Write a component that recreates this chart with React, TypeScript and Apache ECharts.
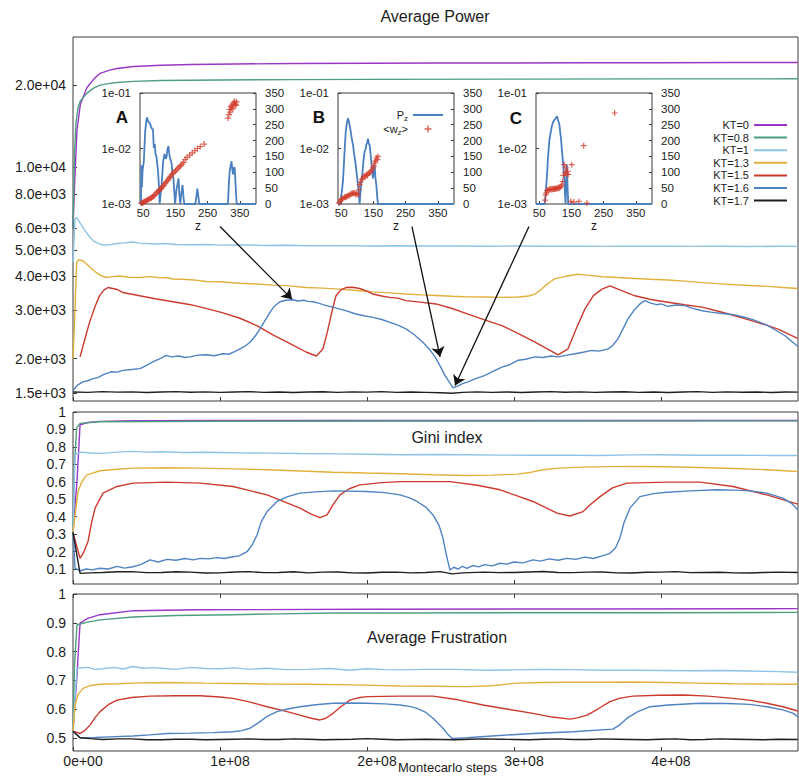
import React, { useEffect, useRef } from 'react';
import * as echarts from 'echarts';

const NAMES = ['KT=0', 'KT=0.8', 'KT=1', 'KT=1.3', 'KT=1.5', 'KT=1.6', 'KT=1.7'];
const COLORS = ['#9a36c8', '#4e9e80', '#8ec3e6', '#e2b13c', '#cc3a2e', '#4f83c2', '#1f1f1f'];

// x values in millions of Montecarlo steps
const POWER_KT0 = [[0,6000],[1.4,9500],[2.7,13700],[5,17000],[9.5,19600],[14,21000],[18.4,22100],[25,22700],[30,23000],[41,23400],[60,23650],[80,23800],[110,23900],[150,24000],[200,24050],[250,24100],[300,24100],[350,24150],[400,24150],[450,24200],[493,24200]];
const POWER_KT08 = [[0,6000],[1,11000],[2,14500],[3.4,16500],[5,17500],[9.5,18700],[14,19500],[18.4,20000],[25,20300],[30,20450],[41,20650],[60,20800],[100,20900],[150,20950],[200,21000],[300,21050],[400,21080],[493,21100]];
const POWER_KT1 = [[0,4500],[1.4,6500],[2.7,6550],[5,6250],[8,5900],[11,5600],[14,5380],[18.4,5240],[22,5200],[26,5230],[30,5270],[35,5300],[40.8,5340],[45,5290],[50,5270],[56,5250],[62,5270],[70,5230],[80,5220],[90,5230],[100,5200],[115,5210],[130,5185],[145,5195],[160,5175],[180,5180],[200,5165],[220,5175],[240,5160],[260,5165],[280,5150],[300,5160],[320,5150],[340,5155],[360,5145],[380,5155],[400,5150],[420,5145],[440,5155],[460,5140],[480,5150],[493,5145]];
const POWER_KT13 = [[0,2000],[1,2700],[2.5,4500],[4,4600],[6.8,4550],[10,4400],[14,4200],[18,4050],[22.4,3960],[27,3990],[32,4010],[38,3970],[45.6,3960],[52,3990],[58,3960],[64,3950],[68,3910],[75,3900],[82,3880],[90.5,3830],[100,3820],[113.6,3775],[125,3750],[136,3715],[147,3690],[158.5,3640],[170,3620],[181.6,3590],[193,3550],[204,3510],[215,3480],[226.5,3445],[237,3420],[247,3405],[258,3380],[268.7,3365],[280,3360],[291.8,3350],[303,3360],[310,3390],[314.3,3445],[318,3560],[321,3690],[325,3830],[328,3925],[335,4000],[343.5,4070],[350,4040],[360,3985],[370,3960],[382.3,3925],[393,3900],[404.8,3880],[416,3840],[426.5,3800],[438,3760],[450.3,3725],[461,3700],[472.8,3675],[483,3640],[493,3610]];
const POWER_KT15 = [[4.8,2030],[8,2350],[11.3,2720],[15,3100],[18.1,3400],[21,3560],[23.8,3640],[27,3610],[30,3580],[34,3490],[40,3440],[45.4,3395],[56,3310],[68,3230],[80,3150],[90.5,3055],[102,2940],[113.6,2810],[125,2640],[136,2445],[147,2280],[158.5,2115],[165.5,2045],[170,2170],[173,2500],[176,2950],[178.9,3395],[182,3560],[185.7,3640],[190,3650],[195,3610],[200,3530],[204,3445],[210,3390],[215.4,3350],[221,3330],[226.5,3260],[236,3220],[247,3170],[258,3050],[268.7,2910],[280,2770],[291.8,2640],[303,2470],[314.3,2300],[322,2180],[330,2065],[336.7,2170],[342,2550],[348.3,3040],[354,3400],[359.9,3590],[365.3,3690],[372,3570],[382.3,3395],[393,3290],[404.8,3215],[416,3150],[427.9,3085],[439,2980],[450.3,2870],[461,2760],[472.8,2640],[480,2560],[486.4,2465],[493,2370]];
const POWER_KT16 = [[0,1530],[3,1600],[6.8,1645],[10,1660],[13.6,1690],[17,1705],[20,1740],[22.4,1763],[26,1790],[30,1785],[34,1812],[40,1825],[45.6,1838],[50,1890],[53,1930],[56.5,1972],[60,2010],[63.3,2055],[67,2030],[72,2045],[76,2020],[79.6,2030],[85,2060],[90.5,2066],[96,2050],[102,2084],[106,2075],[110,2120],[113.6,2172],[117,2220],[120.4,2297],[124,2420],[127.2,2570],[131,2780],[134,2953],[137,3110],[140.8,3228],[145,3270],[149.7,3283],[153,3250],[157,3270],[160,3240],[163.3,3228],[167,3190],[170,3150],[173,3120],[176.9,3084],[181,3040],[186,2990],[192.5,2912],[198,2870],[204,2832],[210,2780],[215.6,2716],[221,2650],[226.5,2570],[232,2450],[238,2297],[242,2180],[246.3,2030],[250,1870],[253,1738],[256,1640],[258.5,1563],[262,1590],[265,1620],[268.7,1645],[274,1690],[280.3,1738],[286,1800],[291.8,1862],[297,1900],[302.7,1972],[308,1990],[314.3,2030],[320,2020],[325,2045],[330,2030],[336,2060],[341.5,2084],[347,2110],[353,2143],[358,2130],[364,2172],[367,2230],[370.7,2362],[374,2560],[377.5,2794],[382,3020],[386,3180],[389,3260],[393,3190],[397,3150],[400,3170],[404.8,3106],[410,3140],[416.3,3124],[421,3060],[427.9,2992],[434,2960],[440,2930],[450.3,2890],[456,2840],[462,2783],[467,2720],[472.8,2640],[478,2540],[484.4,2425],[489,2310],[493,2220]];
const POWER_KT17 = [[0,1510],[10,1505],[20,1515],[30,1508],[40,1512],[50,1503],[60,1510],[70,1515],[80,1507],[90,1512],[100,1505],[110,1510],[120,1515],[130,1506],[140,1511],[150,1504],[160,1510],[170,1514],[180,1506],[190,1512],[200,1508],[210,1515],[220,1505],[230,1510],[240,1506],[250,1500],[258,1495],[265,1505],[275,1512],[285,1506],[295,1511],[305,1504],[315,1510],[325,1515],[335,1507],[345,1512],[355,1505],[365,1510],[375,1514],[385,1506],[395,1511],[405,1504],[415,1510],[425,1515],[435,1506],[445,1512],[455,1507],[465,1511],[475,1504],[485,1510],[493,1508]];

const GINI_KT0 = [[0,0.314],[2.7,0.6],[4.8,0.927],[10,0.94],[18.4,0.946],[41,0.95],[100,0.951],[250,0.951],[493,0.951]];
const GINI_KT08 = [[0,0.314],[1,0.7],[2.5,0.908],[4.8,0.935],[18,0.944],[100,0.947],[250,0.948],[493,0.949]];
const GINI_KT1 = [[0,0.314],[1.4,0.755],[4.8,0.77],[12,0.765],[20,0.763],[30,0.77],[40.8,0.774],[50,0.77],[60,0.772],[75,0.768],[90,0.769],[110,0.766],[132,0.764],[155,0.762],[180,0.76],[200,0.758],[222.4,0.755],[245,0.756],[268,0.755],[290,0.753],[313,0.752],[335,0.753],[358,0.751],[380,0.754],[400,0.755],[425,0.752],[450,0.753],[475,0.751],[493,0.751]];
const GINI_KT13 = [[0,0.31],[3.4,0.544],[6,0.6],[9.5,0.64],[18.4,0.663],[30,0.672],[40.8,0.678],[64,0.68],[86.4,0.678],[110,0.674],[132,0.669],[155,0.662],[176.9,0.655],[200,0.65],[222.4,0.646],[245,0.64],[268,0.636],[285,0.638],[302,0.644],[312,0.655],[319.7,0.669],[330,0.678],[347,0.684],[365,0.687],[381,0.688],[404,0.686],[426.5,0.682],[450,0.676],[472,0.669],[493,0.659]];
const GINI_KT15 = [[0,0.31],[4.8,0.161],[7.5,0.2],[10.2,0.257],[12.5,0.36],[15,0.449],[20.4,0.535],[29.9,0.573],[40.8,0.592],[64,0.598],[86.4,0.592],[108.8,0.573],[132,0.525],[154.4,0.449],[162,0.415],[168,0.395],[172.8,0.41],[177,0.47],[181.6,0.525],[188,0.56],[195.2,0.582],[210,0.595],[222.4,0.601],[256.5,0.601],[275,0.58],[290.5,0.554],[312.9,0.487],[329.3,0.42],[338,0.404],[347,0.429],[352,0.47],[358.5,0.515],[367,0.565],[376.9,0.592],[404,0.598],[426.5,0.598],[449,0.573],[472,0.525],[493,0.472]];
const GINI_KT16 = [[0,0.31],[1.4,0.104],[5,0.09],[9,0.1],[13,0.095],[18.4,0.104],[24,0.1],[30,0.115],[35,0.105],[40.8,0.113],[46,0.125],[52.4,0.152],[58,0.14],[64,0.155],[70,0.15],[76,0.16],[82,0.152],[86.4,0.161],[92,0.158],[98,0.165],[103,0.16],[108.8,0.17],[113,0.175],[118.4,0.199],[122,0.24],[125.2,0.295],[128,0.37],[132,0.429],[138.8,0.487],[146,0.515],[154.4,0.535],[165,0.542],[176.9,0.548],[200,0.544],[212,0.538],[222.4,0.525],[229,0.508],[234,0.487],[240,0.455],[244.9,0.41],[249,0.35],[251.7,0.276],[254,0.18],[256.5,0.094],[259,0.11],[262,0.1],[265,0.115],[268,0.104],[272,0.12],[276,0.112],[280,0.125],[285,0.118],[290.5,0.133],[295,0.128],[300,0.14],[306,0.135],[312.9,0.152],[318,0.145],[324,0.158],[330,0.15],[336,0.161],[342,0.155],[348,0.168],[354,0.16],[360,0.175],[365.3,0.19],[369,0.22],[372,0.276],[375,0.37],[378.9,0.449],[385.7,0.515],[395,0.532],[404,0.54],[420,0.548],[438,0.554],[450,0.552],[460.5,0.548],[472,0.535],[483,0.506],[489,0.475],[493,0.439]];
const GINI_KT17 = [[0,0.31],[4.8,0.075],[12,0.078],[20,0.08],[30,0.084],[40,0.085],[50,0.079],[60,0.08],[70,0.084],[80,0.082],[90,0.077],[100,0.078],[110,0.083],[120,0.085],[130,0.079],[140,0.08],[150,0.084],[160,0.078],[170,0.082],[180,0.083],[190,0.078],[200,0.077],[210,0.081],[220,0.082],[230,0.078],[240,0.08],[250,0.085],[258,0.072],[265,0.078],[280,0.082],[290,0.079],[300,0.08],[310,0.083],[320,0.086],[330,0.08],[340,0.079],[350,0.082],[360,0.083],[370,0.078],[380,0.077],[390,0.081],[400,0.082],[410,0.085],[420,0.079],[430,0.08],[440,0.081],[450,0.078],[460,0.077],[470,0.08],[480,0.082],[493,0.08]];

const FRUS_KT0 = [[0,0.523],[2.5,0.7],[4.8,0.899],[10,0.915],[18.4,0.928],[40.8,0.942],[86,0.945],[200,0.947],[350,0.948],[493,0.949]];
const FRUS_KT08 = [[0,0.523],[1,0.75],[2.7,0.893],[10,0.902],[18.4,0.91],[40.8,0.92],[70,0.925],[108.8,0.928],[140,0.931],[176.9,0.934],[222.4,0.934],[300,0.935],[400,0.935],[493,0.936]];
const FRUS_KT1 = [[0,0.523],[2.7,0.742],[10,0.745],[15,0.738],[20,0.74],[28,0.745],[34,0.739],[40.8,0.748],[48,0.742],[55,0.744],[60,0.742],[70,0.738],[80,0.745],[90,0.741],[100,0.74],[110,0.743],[120,0.738],[132,0.742],[145,0.737],[160,0.738],[175,0.741],[188,0.735],[200,0.74],[212,0.737],[222.4,0.736],[240,0.738],[260,0.738],[280,0.735],[300,0.736],[320,0.738],[340,0.737],[360,0.735],[380,0.735],[400,0.734],[420,0.733],[440,0.734],[460,0.732],[480,0.73],[493,0.728]];
const FRUS_KT13 = [[0,0.523],[1.4,0.614],[3.4,0.65],[6.8,0.672],[12,0.682],[18.4,0.686],[30,0.688],[45,0.691],[64,0.692],[90,0.69],[110,0.689],[132,0.687],[160,0.686],[190,0.684],[222.4,0.68],[245,0.679],[268,0.678],[285,0.681],[302,0.69],[320,0.692],[336,0.693],[360,0.693],[380,0.694],[404,0.692],[425,0.69],[449,0.688],[470,0.687],[493,0.686]];
const FRUS_KT15 = [[0,0.523],[4.8,0.515],[8,0.525],[11.6,0.544],[15,0.57],[18.4,0.591],[24,0.615],[29.9,0.631],[40,0.64],[52.4,0.645],[70,0.646],[86.4,0.646],[100,0.642],[108.8,0.637],[120,0.625],[132,0.608],[145,0.592],[154.4,0.579],[162,0.568],[168,0.562],[172,0.568],[176.9,0.585],[182,0.607],[188.4,0.631],[194,0.639],[200,0.643],[222.4,0.645],[244.9,0.645],[262,0.632],[278.9,0.614],[295,0.6],[312.9,0.585],[326,0.572],[338,0.565],[343,0.569],[349.7,0.579],[357,0.6],[365.3,0.626],[372,0.638],[381,0.645],[398,0.648],[415,0.649],[432,0.645],[449,0.637],[461,0.63],[472,0.62],[483,0.608],[493,0.593]];
const FRUS_KT16 = [[0,0.523],[4.8,0.5],[15,0.501],[25,0.503],[40.8,0.506],[52,0.51],[64,0.515],[80,0.516],[95,0.518],[108.8,0.521],[115,0.525],[120.4,0.533],[124,0.545],[127.2,0.556],[132,0.574],[138.8,0.591],[146,0.6],[154.4,0.608],[165,0.615],[176.9,0.62],[190,0.621],[200,0.62],[212,0.618],[222.4,0.614],[229,0.609],[234,0.602],[240,0.588],[244.9,0.568],[248,0.552],[251.7,0.533],[255,0.512],[257.8,0.498],[268,0.5],[290,0.508],[312.9,0.515],[340,0.521],[367.3,0.53],[372,0.545],[376.9,0.568],[384,0.59],[392.5,0.608],[405,0.614],[426.5,0.62],[445,0.619],[460.5,0.616],[472,0.608],[483,0.597],[490,0.585],[493,0.573]];
const FRUS_KT17 = [[0,0.523],[4.8,0.5],[12,0.497],[20,0.494],[30,0.496],[40,0.496],[50,0.493],[60,0.493],[70,0.495],[80,0.495],[90,0.493],[100,0.494],[110,0.495],[120,0.496],[130,0.494],[140,0.494],[150,0.496],[160,0.495],[170,0.493],[180,0.494],[190,0.495],[200,0.497],[210,0.495],[220,0.493],[230,0.494],[240,0.495],[250,0.494],[260,0.493],[270,0.495],[280,0.496],[290,0.495],[300,0.494],[310,0.493],[320,0.495],[330,0.496],[340,0.494],[350,0.494],[360,0.496],[370,0.495],[380,0.494],[390,0.493],[400,0.495],[410,0.496],[420,0.493],[430,0.494],[440,0.496],[450,0.495],[460,0.494],[470,0.493],[480,0.495],[493,0.494]];

// insets: [z, P_z] and [z, <w_z>]
const INSET_A_PZ = [[40,0.001],[43,0.001],[44,0.005],[46,0.002],[48,0.004],[52,0.006],[56,0.02],[60,0.033],[62,0.036],[66,0.03],[70,0.029],[74,0.025],[78,0.022],[80,0.023],[83,0.0102],[86,0.012],[88,0.008],[91,0.0072],[94,0.005],[96,0.0039],[99,0.002],[101,0.001],[104,0.0015],[107,0.0022],[110,0.004],[112,0.0059],[116,0.008],[120,0.0065],[122.6,0.0072],[125,0.0095],[128,0.011],[131,0.008],[133,0.0067],[136,0.006],[138.5,0.0051],[141,0.0035],[143.8,0.0029],[146,0.0018],[149,0.001],[153,0.0018],[156,0.0022],[159.6,0.0029],[162,0.0015],[165,0.001],[168,0.0015],[172,0.0022],[175,0.0013],[177.6,0.001],[212,0.001],[218,0.0019],[224,0.001],[313,0.001],[316,0.0025],[318.5,0.0039],[321,0.0048],[324,0.0059],[327,0.004],[329,0.0034],[331,0.0045],[334,0.0045],[337,0.002],[340,0.001],[400,0.001]];
const INSET_A_WZ = [[44,2],[47,4],[50,5],[53,7],[56,9],[59,10],[62,12],[65,14],[68,15],[71,17],[75,19],[78,22],[81,24],[84,27],[87,30],[91,35],[94,38],[97,41],[100,44],[104,48],[107,50],[110,55],[113,58],[116,63],[119,66],[122.6,71],[126,75],[129,79],[132,84],[135,88],[138.5,93],[142,97],[146,101],[150,104],[154,108],[158,113],[162,117],[166,121],[170,126],[175,131],[180,140],[186,147],[194,154],[202,161],[210,168],[218,175],[227,181],[239,189],[313,271],[316,282],[318,298],[320,290],[322,308],[324,303],[326,312],[328,300],[330,319],[332,313],[334,324],[336,315],[338,311],[340,322]];
const INSET_B_PZ = [[40,0.001],[47,0.001],[51,0.0015],[55.5,0.0026],[60,0.008],[64,0.02],[68,0.03],[71,0.035],[74,0.03],[78,0.023],[82,0.016],[86.5,0.0117],[90,0.008],[95,0.0051],[98,0.0035],[102,0.0022],[105,0.0015],[107,0.001],[111,0.002],[115.5,0.0034],[119,0.006],[122.8,0.0089],[126,0.01],[128,0.0117],[131,0.013],[133,0.015],[136,0.012],[138,0.0117],[141,0.008],[143,0.0059],[146,0.004],[148.6,0.0029],[151,0.004],[153.8,0.0051],[156,0.003],[159,0.0022],[162,0.0013],[164,0.001],[400,0.001]];
const INSET_B_WZ = [[43,3],[46,8],[50,14],[53,16],[56,18],[60.7,21],[64,22],[67,24],[71,26],[74,27],[78,30],[81,32],[85,33],[88,34],[91.7,35],[95,30],[98,33],[102,29],[105,45],[107,61],[110,70],[114,78],[117.6,82],[121,88],[124,85],[128,93],[131,90],[134,96],[138,98],[141,102],[145,108],[148.6,114],[151,120],[153.8,129],[156,135],[159,145],[162,140],[164,150]];
const INSET_C_PZ = [[40,0.001],[67,0.001],[70,0.0015],[72,0.0022],[75,0.004],[77,0.0067],[80,0.011],[82,0.015],[86,0.02],[89,0.025],[93,0.03],[97.5,0.033],[101,0.035],[105.5,0.038],[108,0.033],[112.6,0.027],[115,0.02],[117.6,0.015],[120,0.01],[122.7,0.0067],[125,0.0045],[127.7,0.0029],[130,0.0015],[131.8,0.001],[134,0.003],[135.8,0.0051],[138,0.002],[140,0.001],[400,0.001]];
const INSET_C_WZ = [[68,12],[70,29],[72,35],[74,42],[77,45],[80,43],[83,47],[86,48],[89,45],[92,47],[95,48],[97.5,47],[100,49],[103,48],[106,50],[109,51],[112,50],[115,53],[117.6,56],[120,60],[122.7,71],[125,90],[127.7,124],[130,100],[132.8,114],[135,95],[137.8,103],[139.8,93],[148,8],[151,124],[158,6],[173,8],[188,184],[198,3],[284,287]];

const POWER_TICKS = [1500, 2000, 3000, 4000, 5000, 6000, 8000, 10000, 20000];
const GINI_TICKS = [0.1, 0.2, 0.3, 0.4, 0.5, 0.6, 0.7, 0.8, 0.9, 1];
const FRUS_TICKS = [0.5, 0.6, 0.7, 0.8, 0.9, 1];
const STEP_TICKS = [0, 1e8, 2e8, 3e8, 4e8];
const Z_TICKS = [50, 150, 250, 350];
const INSET_LETTERS = ['A', 'B', 'C'];

// arrows: [start step, start power] -> [end step, end power]
const ARROWS = [
  [[100e6, 6080], [149e6, 3300]],
  [[230.6e6, 6080], [249.7e6, 2030]],
  [[310.2e6, 6080], [259.9e6, 1595]],
];

const FONT = "'Liberation Sans', Arial, Helvetica, sans-serif";
const TXT = '#1c1c1c';
const FRAME = '#3a3a3a';
const XMAX = 4.932e8;
const INSET_BLUE = '#4a7fc0';
const INSET_RED = '#d23c2c';
const PLUS = 'path://M4,0h2v4h4v2h-4v4h-2v-4h-4v-2h4z';

const fmtPow = (lv: number) => {
  const e = Math.floor(lv + 1e-9);
  const m = Math.pow(10, lv - e);
  return m.toFixed(1) + 'e+' + String(e).padStart(2, '0');
};
const fmtDec = (v: number) => (Math.abs(v - 1) < 1e-9 ? '1' : v.toFixed(1));

export default function App() {
  const ref = useRef<HTMLDivElement>(null);
  useEffect(() => {
    if (!ref.current) return;
    const chart = echarts.init(ref.current, undefined, { renderer: 'svg' });

    const gridBase = { show: true, borderColor: FRAME, borderWidth: 1, backgroundColor: 'transparent', outerBoundsMode: 'none' };
    const grids = [
      { ...gridBase, left: 73, top: 37, width: 725, height: 364 },
      { ...gridBase, left: 73, top: 412, width: 725, height: 172 },
      { ...gridBase, left: 73, top: 594, width: 725, height: 157 },
      { ...gridBase, left: 140, top: 93, width: 116, height: 111, backgroundColor: '#fff' },
      { ...gridBase, left: 338, top: 93, width: 116, height: 111, backgroundColor: '#fff' },
      { ...gridBase, left: 536, top: 93, width: 116, height: 111, backgroundColor: '#fff' },
    ];

    const tick = { show: true, inside: true, length: 4, lineStyle: { color: FRAME, width: 1 } };
    const mainX = (gi: number, extra: any = {}) => ({
      type: 'value', gridIndex: gi, min: 0, max: XMAX, interval: 1e8,
      axisLine: { show: false }, splitLine: { show: false },
      axisTick: { ...tick, customValues: STEP_TICKS },
      axisLabel: { show: false }, ...extra,
    });
    const xAxes: any[] = [
      mainX(0),
      mainX(1),
      mainX(2, {
        axisLabel: {
          show: true, customValues: STEP_TICKS, fontSize: 14, color: TXT, fontFamily: FONT, margin: 3, padding: [0, 0, 0, 20],
          formatter: (v: number) => (v === 0 ? '0e+00' : Math.round(v / 1e8) + 'e+08'),
        },
        name: 'Montecarlo steps', nameLocation: 'middle', nameGap: 10, nameMoveOverlap: false,
        nameTextStyle: { fontSize: 13, color: TXT, fontFamily: FONT, padding: [0, 0, 0, 24] },
      }),
      mainX(2, { position: 'top' }),
    ];
    [3, 4, 5].forEach((gi) => {
      xAxes.push({
        type: 'value', gridIndex: gi, min: 40, max: 400,
        axisLine: { show: false }, splitLine: { show: false },
        axisTick: { ...tick, length: 3, customValues: Z_TICKS },
        axisLabel: { customValues: Z_TICKS, fontSize: 11.5, color: TXT, fontFamily: FONT, margin: 3 },
        name: 'z', nameLocation: 'middle', nameGap: 16, nameMoveOverlap: false,
        nameTextStyle: { fontSize: 12, color: TXT, fontFamily: FONT },
      });
    });

    const lab = { fontSize: 14, color: TXT, fontFamily: FONT, margin: 7 };
    const yAxes: any[] = [
      {
        type: 'value', gridIndex: 0, min: Math.log10(1400), max: Math.log10(30000),
        axisLine: { show: false }, splitLine: { show: false },
        axisTick: { ...tick, customValues: POWER_TICKS.map((t) => Math.log10(t)) },
        axisLabel: { ...lab, customValues: POWER_TICKS.map((t) => Math.log10(t)), formatter: fmtPow },
      },
      {
        type: 'value', gridIndex: 1, min: 0.014, max: 1,
        axisLine: { show: false }, splitLine: { show: false },
        axisTick: { ...tick, customValues: GINI_TICKS },
        axisLabel: { ...lab, customValues: GINI_TICKS, formatter: fmtDec },
      },
      {
        type: 'value', gridIndex: 2, min: 0.454, max: 1,
        axisLine: { show: false }, splitLine: { show: false },
        axisTick: { ...tick, customValues: FRUS_TICKS },
        axisLabel: { ...lab, customValues: FRUS_TICKS, formatter: fmtDec },
      },
    ];
    [3, 4, 5].forEach((gi) => {
      yAxes.push({
        type: 'log', logBase: 10, gridIndex: gi, min: 0.001, max: 0.1,
        axisLine: { show: false }, splitLine: { show: false },
        axisTick: { ...tick, length: 3 },
        axisLabel: {
          fontSize: 11.5, color: TXT, fontFamily: FONT, margin: 9,
          formatter: (v: number) => '1e-' + String(-Math.round(Math.log10(v))).padStart(2, '0'),
        },
      });
      yAxes.push({
        type: 'value', gridIndex: gi, position: 'right', min: 0, max: 350, interval: 50,
        axisLine: { show: false }, splitLine: { show: false },
        axisTick: { ...tick, length: 3 },
        axisLabel: { fontSize: 11.5, color: TXT, fontFamily: FONT, margin: 9 },
      });
    });

    const series: any[] = [];
    const panels = [
      { data: [POWER_KT0, POWER_KT08, POWER_KT1, POWER_KT13, POWER_KT15, POWER_KT16, POWER_KT17], axis: 0, log: true },
      { data: [GINI_KT0, GINI_KT08, GINI_KT1, GINI_KT13, GINI_KT15, GINI_KT16, GINI_KT17], axis: 1, log: false },
      { data: [FRUS_KT0, FRUS_KT08, FRUS_KT1, FRUS_KT13, FRUS_KT15, FRUS_KT16, FRUS_KT17], axis: 2, log: false },
    ];
    panels.forEach((p) => {
      p.data.forEach((arr, i) => {
        const s: any = {
          type: 'line', name: NAMES[i], xAxisIndex: p.axis, yAxisIndex: p.axis,
          data: arr.map(([m, v]) => [m * 1e6, p.log ? Math.log10(v) : v]),
          symbol: 'none', showSymbol: false, clip: true,
          lineStyle: { color: COLORS[i], width: 1.4 },
          itemStyle: { color: COLORS[i] },
          emphasis: { disabled: true },
        };
        if (p.log && i === 6) {
          s.markLine = {
            silent: true, symbol: ['none', 'arrow'], symbolSize: 10,
            label: { show: false },
            lineStyle: { color: '#111', width: 1.3, type: 'solid', opacity: 1 },
            itemStyle: { color: '#111' },
            emphasis: { disabled: true },
            data: ARROWS.map(([a, b]) => [
              { coord: [a[0], Math.log10(a[1])], symbol: 'none' },
              { coord: [b[0], Math.log10(b[1])], symbol: 'arrow', symbolSize: 10 },
            ]),
          };
        }
        series.push(s);
      });
    });

    const insets = [
      [INSET_A_PZ, INSET_A_WZ],
      [INSET_B_PZ, INSET_B_WZ],
      [INSET_C_PZ, INSET_C_WZ],
    ];
    insets.forEach(([pz, wz], k) => {
      series.push({
        type: 'line', name: 'Pz', xAxisIndex: 4 + k, yAxisIndex: 3 + 2 * k,
        data: pz, symbol: 'none', showSymbol: false, clip: true,
        lineStyle: { color: INSET_BLUE, width: 1.8 }, itemStyle: { color: INSET_BLUE },
        emphasis: { disabled: true }, z: 3,
      });
      series.push({
        type: 'scatter', name: 'wz', xAxisIndex: 4 + k, yAxisIndex: 4 + 2 * k,
        data: wz, symbol: PLUS, symbolSize: 6, clip: true,
        itemStyle: { color: INSET_RED }, emphasis: { disabled: true }, z: 4,
      });
    });

    const titleStyle = { fontSize: 16, fontWeight: 'normal', color: TXT, fontFamily: FONT };
    const letterStyle = { fontSize: 17, fontWeight: 'bold', color: '#111', fontFamily: FONT };
    const option: any = {
      animation: false,
      backgroundColor: '#fff',
      textStyle: { fontFamily: FONT },
      title: [
        { text: 'Average Power', left: 435, top: 8, textAlign: 'center', padding: 0, textStyle: titleStyle },
        { text: 'Gini index', left: 447, top: 429, textAlign: 'center', padding: 0, textStyle: titleStyle },
        { text: 'Average Frustration', left: 437, top: 629, textAlign: 'center', padding: 0, textStyle: titleStyle },
        { text: INSET_LETTERS[0], left: 122, top: 109, textAlign: 'center', padding: 0, textStyle: letterStyle },
        { text: INSET_LETTERS[1], left: 319, top: 109, textAlign: 'center', padding: 0, textStyle: letterStyle },
        { text: INSET_LETTERS[2], left: 516, top: 110, textAlign: 'center', padding: 0, textStyle: letterStyle },
      ],
      legend: [
        {
          data: NAMES, orient: 'vertical', right: 12, top: 119, align: 'right',
          icon: 'rect', itemWidth: 33, itemHeight: 2, itemGap: 0.6, padding: 0,
          selectedMode: false,
          textStyle: { fontSize: 11, lineHeight: 12, color: TXT, fontFamily: FONT },
        },
        {
          data: [
            { name: 'Pz', icon: 'path://M0,0h30v2h-30z' },
            { name: 'wz', icon: PLUS },
          ],
          orient: 'vertical', right: 356, top: 108, align: 'right',
          itemWidth: 30, itemHeight: 7, itemGap: 0, padding: 0, selectedMode: false,
          formatter: (n: string) => (n === 'Pz' ? 'P{s|z}' : '<w{s|z}>'),
          textStyle: {
            fontSize: 11, lineHeight: 14, color: TXT, fontFamily: FONT,
            rich: { s: { fontSize: 8, lineHeight: 7, verticalAlign: 'bottom', fontFamily: FONT, color: TXT } },
          },
        },
      ],
      grid: grids,
      xAxis: xAxes,
      yAxis: yAxes,
      series,
    };
    chart.setOption(option);
    return () => chart.dispose();
  }, []);
  return <div ref={ref} style={{ position: 'absolute', left: 0, top: 0, width: 799, height: 776 }} />;
}
